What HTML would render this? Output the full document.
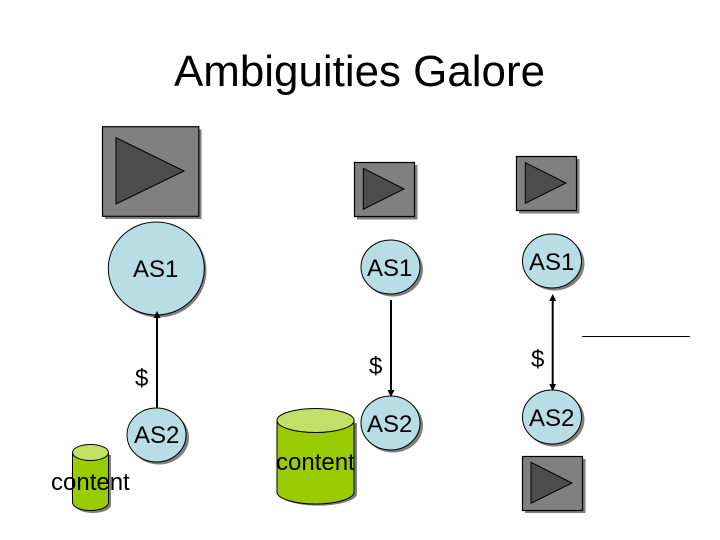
<!DOCTYPE html>
<html>
<head>
<meta charset="utf-8">
<style>
html,body{margin:0;padding:0;background:#fff;width:720px;height:540px;overflow:hidden}
svg{display:block}
text{font-family:"Liberation Sans",sans-serif;fill:#000}
.l{font-size:24px}
.box{fill:#808080;stroke:#000;stroke-width:1.2}
.tri{fill:#4d4d4d;stroke:#000;stroke-width:1}
.c{fill:#b9dde4;stroke:#000;stroke-width:1}
.s{fill:#7f7f7f}
.ln{stroke:#000;stroke-width:2;fill:none}
.ah{fill:#000}
</style>
</head>
<body>
<svg width="720" height="540" viewBox="0 0 720 540" xmlns="http://www.w3.org/2000/svg">
<rect width="720" height="540" fill="#fff"/>
<text x="174" y="86" font-size="44" textLength="371" lengthAdjust="spacingAndGlyphs">Ambiguities Galore</text>

<!-- shadows -->
<g class="s">
<rect x="105" y="129.500" width="96.500" height="89.500"/>
<ellipse cx="158.500" cy="270.500" rx="48" ry="47"/>
<ellipse cx="159" cy="437.500" rx="30" ry="27"/>
<rect x="357" y="165" width="60.500" height="54.500"/>
<ellipse cx="393" cy="269.500" rx="30" ry="27"/>
<ellipse cx="393" cy="425.500" rx="30" ry="27"/>
<rect x="519" y="159" width="60.500" height="54.500"/>
<ellipse cx="554.500" cy="263.500" rx="30" ry="27"/>
<ellipse cx="554.500" cy="419.500" rx="30" ry="27"/>
<rect x="525" y="459" width="60.500" height="54"/>
<path d="M75 455 V505 A18 8 0 0 0 111 505 V455 Z"/>
<path d="M279.500 423 V495 A39 12 0 0 0 357 495 V423 Z"/>
</g>

<!-- play boxes -->
<rect class="box" x="102.500" y="126.700" width="96.300" height="89.600"/>
<polygon class="tri" points="116,137.700 116,204 184,171"/>
<rect class="box" x="354.500" y="162.500" width="60" height="54"/>
<polygon class="tri" points="363.300,168.300 363.300,209.300 404,189"/>
<rect class="box" x="516.500" y="156.500" width="60" height="54"/>
<polygon class="tri" points="525.300,162.700 525.300,203.300 566,183"/>
<rect class="box" x="522.500" y="456.500" width="60" height="54"/>
<polygon class="tri" points="531,462.300 531,503.300 572,483"/>

<!-- cylinders -->
<path d="M72.500 452.500 V502.500 A18 8 0 0 0 108.500 502.500 V452.500 Z" fill="#99cc00" stroke="#000"/>
<ellipse cx="90.500" cy="452.500" rx="18" ry="8" fill="#c2e066" stroke="#000"/>
<path d="M277 420.500 V492 A38.500 12 0 0 0 354 492 V420.500 Z" fill="#99cc00" stroke="#000"/>
<ellipse cx="315.500" cy="420.500" rx="38.500" ry="12" fill="#c2e066" stroke="#000"/>

<!-- circles -->
<ellipse class="c" cx="156.300" cy="268.500" rx="48" ry="46.500"/>
<ellipse class="c" cx="156.500" cy="435" rx="29.500" ry="27"/>
<ellipse class="c" cx="390.500" cy="267" rx="29.500" ry="27"/>
<ellipse class="c" cx="390.500" cy="423" rx="29.500" ry="27"/>
<ellipse class="c" cx="552" cy="261" rx="29.500" ry="27"/>
<ellipse class="c" cx="552" cy="417" rx="29.500" ry="27"/>

<!-- connectors -->
<line class="ln" x1="157" y1="408" x2="157" y2="316"/>
<polygon class="ah" points="157,311 153.500,318 160.500,318"/>
<line class="ln" x1="391" y1="300" x2="391" y2="392"/>
<polygon class="ah" points="391,397 387.500,390 394.500,390"/>
<line class="ln" x1="552.700" y1="299" x2="552.700" y2="386"/>
<polygon class="ah" points="552.700,294 549.200,301 556.200,301"/>
<polygon class="ah" points="552.700,391 549.200,384 556.200,384"/>
<line x1="582" y1="336.500" x2="690" y2="336.500" stroke="#000" stroke-width="1"/>

<!-- labels -->
<text class="l" x="133" y="277">AS1</text>
<text class="l" x="134" y="443">AS2</text>
<text class="l" x="135" y="386">$</text>
<text class="l" x="51" y="490">content</text>
<text class="l" x="367" y="276">AS1</text>
<text class="l" x="367" y="432">AS2</text>
<text class="l" x="369" y="374">$</text>
<text class="l" x="276" y="470">content</text>
<text class="l" x="529" y="270">AS1</text>
<text class="l" x="529" y="426">AS2</text>
<text class="l" x="531" y="367">$</text>
</svg>
</body>
</html>
